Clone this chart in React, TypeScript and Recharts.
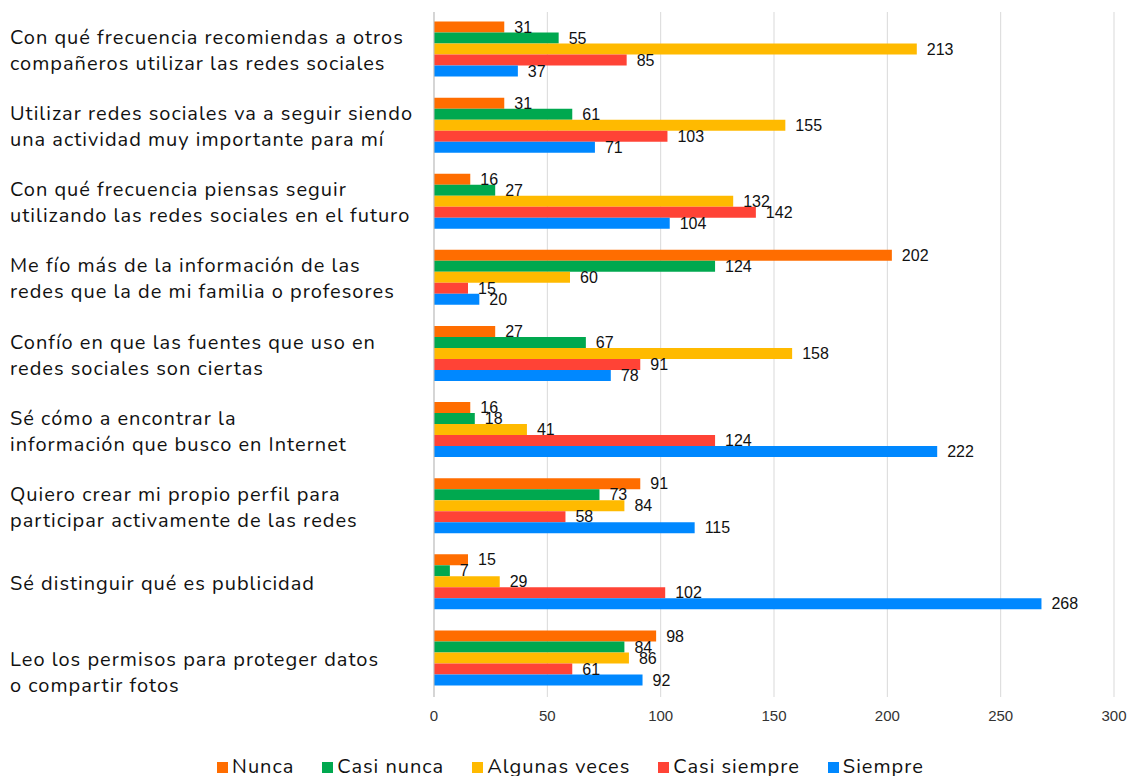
import React from 'react';
import { BarChart, Bar, XAxis, YAxis, CartesianGrid, Legend, LabelList } from 'recharts';

const categories = [
  'Con qué frecuencia recomiendas a otros\ncompañeros utilizar las redes sociales',
  'Utilizar redes sociales va a seguir siendo\nuna actividad muy importante para mí',
  'Con qué frecuencia piensas seguir\nutilizando las redes sociales en el futuro',
  'Me fío más de la información de las\nredes que la de mi familia o profesores',
  'Confío en que las fuentes que uso en\nredes sociales son ciertas',
  'Sé cómo a encontrar la\ninformación que busco en Internet',
  'Quiero crear mi propio perfil para\nparticipar activamente de las redes',
  'Sé distinguir qué es publicidad',
  '\nLeo los permisos para proteger datos\no compartir fotos',
];

const nunca = [31, 31, 16, 202, 27, 16, 91, 15, 98];
const casiNunca = [55, 61, 27, 124, 67, 18, 73, 7, 84];
const algunasVeces = [213, 155, 132, 60, 158, 41, 84, 29, 86];
const casiSiempre = [85, 103, 142, 15, 91, 124, 58, 102, 61];
const siempre = [37, 71, 104, 20, 78, 222, 115, 268, 92];

const xTicks = [0, 50, 100, 150, 200, 250, 300];

const seriesDefs = [
  { key: 'nunca', name: 'Nunca', color: '#FF6D00' },
  { key: 'casiNunca', name: 'Casi nunca', color: '#00A84F' },
  { key: 'algunasVeces', name: 'Algunas veces', color: '#FFBA00' },
  { key: 'casiSiempre', name: 'Casi siempre', color: '#FF4336' },
  { key: 'siempre', name: 'Siempre', color: '#0088FF' },
];

const data = categories.map((c, i) => ({
  name: c,
  nunca: nunca[i],
  casiNunca: casiNunca[i],
  algunasVeces: algunasVeces[i],
  casiSiempre: casiSiempre[i],
  siempre: siempre[i],
}));

const FONT = 'Nunito, "Open Sans", Lato, sans-serif';
const NUM_FONT = '"Liberation Sans", Arial, sans-serif';

const CategoryTick = (props: any) => {
  const { y, payload } = props;
  const lines: string[] = String(payload.value).split('\n');
  const lh = 26;
  const startY = y - ((lines.length - 1) * lh) / 2;
  return (
    <text x={10} y={startY} textAnchor="start" dominantBaseline="central" fontFamily={FONT} fontSize={20} letterSpacing={1} fill="#111">
      {lines.map((l, i) => (
        <tspan key={i} x={10} y={startY + i * lh}>{l}</tspan>
      ))}
    </text>
  );
};

const LegendContent = () => (
  <div style={{ display: 'flex', justifyContent: 'center', alignItems: 'flex-end', height: 49, paddingLeft: 55, boxSizing: 'border-box', fontFamily: FONT, fontSize: 20, letterSpacing: 1, color: '#111' }}>
    {seriesDefs.map((s) => (
      <div key={s.key} style={{ display: 'flex', alignItems: 'center', marginRight: 28, lineHeight: '18px' }}>
        <span style={{ display: 'inline-block', width: 11, height: 11, background: s.color, marginRight: 4 }} />
        <span>{s.name}</span>
      </div>
    ))}
  </div>
);

export default function App() {
  return (
    <div style={{ position: 'absolute', left: 0, top: 0, width: 1132, height: 776, background: '#fff' }}>
      <BarChart
        width={1132}
        height={776}
        data={data}
        layout="vertical"
        margin={{ top: 12, right: 18, bottom: 0, left: 0 }}
        barCategoryGap="12.5%"
        barGap={0}
      >
        <CartesianGrid horizontal={false} stroke="#d9d9d9" />
        <XAxis
          type="number"
          domain={[0, 300]}
          ticks={xTicks}
          axisLine={false}
          tickLine={false}
          height={30}
          dy={5}
          tick={{ fontFamily: NUM_FONT, fontSize: 15, fill: '#333' }}
        />
        <YAxis
          type="category"
          dataKey="name"
          width={434}
          axisLine={{ stroke: '#bfbfbf' }}
          tickLine={false}
          tick={<CategoryTick />}
          interval={0}
        />
        <Legend verticalAlign="bottom" content={<LegendContent />} />
        {seriesDefs.map((s) => (
          <Bar key={s.key} dataKey={s.key} name={s.name} fill={s.color} isAnimationActive={false}>
            <LabelList
              dataKey={s.key}
              position="right"
              offset={10}
              style={{ fontFamily: NUM_FONT, fontSize: 16, fill: '#111' }}
            />
          </Bar>
        ))}
      </BarChart>
    </div>
  );
}
